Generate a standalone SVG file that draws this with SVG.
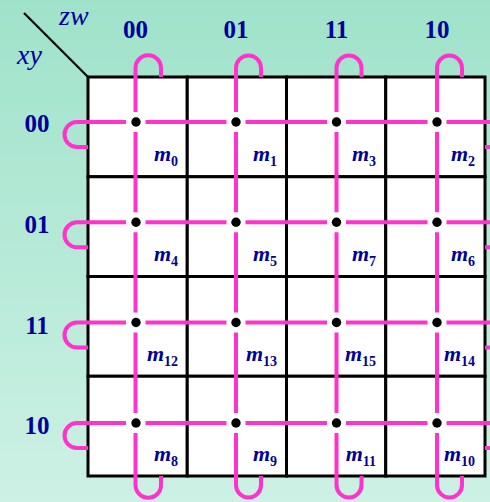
<svg xmlns="http://www.w3.org/2000/svg" width="490" height="502" viewBox="0 0 490 502">
<defs>
<linearGradient id="bg" x1="0" y1="0" x2="0" y2="1">
<stop offset="0" stop-color="#9FE2CA"/>
<stop offset="1" stop-color="#CDF1E4"/>
</linearGradient>
<style>
.cell{fill:#fff;stroke:#000;stroke-width:3}
.hdr{font-family:"Liberation Serif",serif;font-weight:bold;font-size:25px;fill:#000099;text-anchor:middle}
.var{font-family:"Liberation Serif",serif;font-style:italic;font-size:28px;fill:#000099}
.m{font-family:"Liberation Serif",serif;font-weight:bold;font-style:italic;font-size:22px;fill:#000099;text-anchor:end}
.sub{font-style:normal;font-size:14px}
.loop{fill:none;stroke:#FF33CC;stroke-width:4}
.dot{fill:#000}
</style>
</defs>
<rect width="490" height="502" fill="url(#bg)"/>
<line x1="24" y1="13" x2="88" y2="77" stroke="#000" stroke-width="2.2"/>
<text class="var" x="59" y="25">zw</text>
<text class="var" x="17" y="64">xy</text>
<g id="col-headers">
<text class="hdr" x="135.5" y="38">00</text>
<text class="hdr" x="236" y="38">01</text>
<text class="hdr" x="336.5" y="38">11</text>
<text class="hdr" x="437" y="38">10</text>
</g>
<g id="row-headers">
<text class="hdr" x="37" y="132">00</text>
<text class="hdr" x="37" y="233">01</text>
<text class="hdr" x="37" y="333.5">11</text>
<text class="hdr" x="37" y="434">10</text>
</g>
<g id="m0"><rect class="cell" x="88" y="77" width="99.25" height="99.75"/><text class="m" x="178" y="161">m<tspan class="sub" dy="5">0</tspan></text></g>
<g id="m1"><rect class="cell" x="187.25" y="77" width="99.25" height="99.75"/><text class="m" x="277" y="161">m<tspan class="sub" dy="5">1</tspan></text></g>
<g id="m3"><rect class="cell" x="286.5" y="77" width="99.25" height="99.75"/><text class="m" x="376" y="161">m<tspan class="sub" dy="5">3</tspan></text></g>
<g id="m2"><rect class="cell" x="385.75" y="77" width="99.25" height="99.75"/><text class="m" x="475" y="161">m<tspan class="sub" dy="5">2</tspan></text></g>
<g id="m4"><rect class="cell" x="88" y="176.75" width="99.25" height="99.75"/><text class="m" x="178" y="261">m<tspan class="sub" dy="5">4</tspan></text></g>
<g id="m5"><rect class="cell" x="187.25" y="176.75" width="99.25" height="99.75"/><text class="m" x="277" y="261">m<tspan class="sub" dy="5">5</tspan></text></g>
<g id="m7"><rect class="cell" x="286.5" y="176.75" width="99.25" height="99.75"/><text class="m" x="376" y="261">m<tspan class="sub" dy="5">7</tspan></text></g>
<g id="m6"><rect class="cell" x="385.75" y="176.75" width="99.25" height="99.75"/><text class="m" x="475" y="261">m<tspan class="sub" dy="5">6</tspan></text></g>
<g id="m12"><rect class="cell" x="88" y="276.5" width="99.25" height="99.75"/><text class="m" x="178" y="361">m<tspan class="sub" dy="5">12</tspan></text></g>
<g id="m13"><rect class="cell" x="187.25" y="276.5" width="99.25" height="99.75"/><text class="m" x="277" y="361">m<tspan class="sub" dy="5">13</tspan></text></g>
<g id="m15"><rect class="cell" x="286.5" y="276.5" width="99.25" height="99.75"/><text class="m" x="376" y="361">m<tspan class="sub" dy="5">15</tspan></text></g>
<g id="m14"><rect class="cell" x="385.75" y="276.5" width="99.25" height="99.75"/><text class="m" x="475" y="361">m<tspan class="sub" dy="5">14</tspan></text></g>
<g id="m8"><rect class="cell" x="88" y="376.25" width="99.25" height="99.75"/><text class="m" x="178" y="461">m<tspan class="sub" dy="5">8</tspan></text></g>
<g id="m9"><rect class="cell" x="187.25" y="376.25" width="99.25" height="99.75"/><text class="m" x="277" y="461">m<tspan class="sub" dy="5">9</tspan></text></g>
<g id="m11"><rect class="cell" x="286.5" y="376.25" width="99.25" height="99.75"/><text class="m" x="376" y="461">m<tspan class="sub" dy="5">11</tspan></text></g>
<g id="m10"><rect class="cell" x="385.75" y="376.25" width="99.25" height="99.75"/><text class="m" x="475" y="461">m<tspan class="sub" dy="5">10</tspan></text></g>
<g id="connectors">
<path class="loop" d="M161,77 L161,68 A12.75,12.75 0 0 0 135.5,68 L135.5,112 M135.5,132 L135.5,212.3 M135.5,232.3 L135.5,312.5 M135.5,332.5 L135.5,413 M135.5,433 L135.5,485 A12.75,12.75 0 0 0 161,485 L161,476"/>
<path class="loop" d="M261,77 L261,68 A12.5,12.5 0 0 0 236,68 L236,112 M236,132 L236,212.3 M236,232.3 L236,312.5 M236,332.5 L236,413 M236,433 L236,485 A12.5,12.5 0 0 0 261,485 L261,476"/>
<path class="loop" d="M361.5,77 L361.5,68 A12.5,12.5 0 0 0 336.5,68 L336.5,112 M336.5,132 L336.5,212.3 M336.5,232.3 L336.5,312.5 M336.5,332.5 L336.5,413 M336.5,433 L336.5,485 A12.5,12.5 0 0 0 361.5,485 L361.5,476"/>
<path class="loop" d="M462,77 L462,68 A12.5,12.5 0 0 0 437,68 L437,112 M437,132 L437,212.3 M437,232.3 L437,312.5 M437,332.5 L437,413 M437,433 L437,485 A12.5,12.5 0 0 0 462,485 L462,476"/>
<path class="loop" d="M88,147 L77,147 A12.5,12.5 0 0 1 77,122 L126,122 M145.5,122 L226.5,122 M245.5,122 L327,122 M346,122 L427.5,122 M446.5,122 L490,122 M485,147 L490,147"/>
<path class="loop" d="M88,247.3 L77,247.3 A12.5,12.5 0 0 1 77,222.3 L126,222.3 M145.5,222.3 L226.5,222.3 M245.5,222.3 L327,222.3 M346,222.3 L427.5,222.3 M446.5,222.3 L490,222.3 M485,247.3 L490,247.3"/>
<path class="loop" d="M88,347.5 L77,347.5 A12.5,12.5 0 0 1 77,322.5 L126,322.5 M145.5,322.5 L226.5,322.5 M245.5,322.5 L327,322.5 M346,322.5 L427.5,322.5 M446.5,322.5 L490,322.5 M485,347.5 L490,347.5"/>
<path class="loop" d="M88,448 L77,448 A12.5,12.5 0 0 1 77,423 L126,423 M145.5,423 L226.5,423 M245.5,423 L327,423 M346,423 L427.5,423 M446.5,423 L490,423 M485,448 L490,448"/>
</g>
<g id="dots">
<circle class="dot" cx="136" cy="122" r="4.7"/><circle class="dot" cx="236" cy="122" r="4.7"/><circle class="dot" cx="336.5" cy="122" r="4.7"/><circle class="dot" cx="437" cy="122" r="4.7"/>
<circle class="dot" cx="136" cy="222.3" r="4.7"/><circle class="dot" cx="236" cy="222.3" r="4.7"/><circle class="dot" cx="336.5" cy="222.3" r="4.7"/><circle class="dot" cx="437" cy="222.3" r="4.7"/>
<circle class="dot" cx="136" cy="322.5" r="4.7"/><circle class="dot" cx="236" cy="322.5" r="4.7"/><circle class="dot" cx="336.5" cy="322.5" r="4.7"/><circle class="dot" cx="437" cy="322.5" r="4.7"/>
<circle class="dot" cx="136" cy="423" r="4.7"/><circle class="dot" cx="236" cy="423" r="4.7"/><circle class="dot" cx="336.5" cy="423" r="4.7"/><circle class="dot" cx="437" cy="423" r="4.7"/>
</g>
</svg>
